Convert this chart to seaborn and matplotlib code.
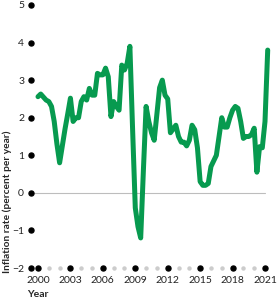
"""Quarterly inflation rate, 2000-2021."""
import matplotlib
matplotlib.use("Agg")
import matplotlib.pyplot as plt
import numpy as np
import pandas as pd
import seaborn as sns

YEARS = list(range(2000, 2022))
# quarterly inflation (percent per year), 2000Q1..2021Q2
INFLATION = [
    2.56, 2.63, 2.55, 2.47,
    2.43, 2.30, 1.90, 1.30,
    0.80, 1.25, 1.70, 2.10,
    2.52, 1.90, 2.00, 2.00,
    2.43, 2.56, 2.47, 2.78,
    2.60, 2.60, 3.18, 3.14,
    3.14, 3.32, 3.09, 2.03,
    2.43, 2.30, 2.20, 3.40,
    3.27, 3.45, 3.90, 1.70,
    -0.40, -0.90, -1.20, 0.60,
    2.30, 1.90, 1.60, 1.40,
    2.10, 2.80, 3.00, 2.60,
    2.50, 1.60, 1.70, 1.80,
    1.50, 1.35, 1.35, 1.25,
    1.40, 1.80, 1.68, 1.20,
    0.30, 0.20, 0.20, 0.25,
    0.70, 0.85, 1.00, 1.50,
    2.00, 1.75, 1.75, 2.00,
    2.20, 2.30, 2.25, 1.90,
    1.45, 1.50, 1.50, 1.55,
    1.72, 0.55, 1.23, 1.20,
    1.90, 3.80,
]
Y_TICKS = [-2, -1, 0, 1, 2, 3, 4, 5]
X_MAJOR = [2000, 2003, 2006, 2009, 2012, 2015, 2018, 2021]

GREEN = "#079a4f"

df = pd.DataFrame({
    "t": [YEARS[0] + i / 4 for i in range(len(INFLATION))],
    "rate": INFLATION,
})

sns.set_theme(style="white")
plt.rcParams["font.family"] = ["Lato", "DejaVu Sans"]

fig = plt.figure(figsize=(2.78, 3.0), dpi=100)
ax = fig.add_axes([31 / 278, 32 / 300, 241 / 278, 263 / 300])
ax.set_xlim(2000 - 7 / 10.81, 2021 + 7 / 10.81)
ax.set_ylim(-2, 5)

ax.axhline(0, xmin=0, xmax=(2021 - ax.get_xlim()[0]) / np.diff(ax.get_xlim())[0],
           color="#bdbdbd", lw=0.8, zorder=1)
sns.lineplot(data=df, x="t", y="rate", color=GREEN, lw=3.6, ax=ax, zorder=3)

for s in ax.spines.values():
    s.set_visible(False)

# dotted axes: black dots on ticks, grey dots on other years
ax.plot([0] * len(Y_TICKS), Y_TICKS, "o", color="black", ms=3.6,
        transform=ax.get_yaxis_transform(), clip_on=False, zorder=4)
minor = [y for y in YEARS if y not in X_MAJOR]
ax.plot(minor, [0] * len(minor), "o", color="#cccccc", ms=2.2,
        transform=ax.get_xaxis_transform(), clip_on=False, zorder=4)
ax.plot(X_MAJOR, [0] * len(X_MAJOR), "o", color="black", ms=3.6,
        transform=ax.get_xaxis_transform(), clip_on=False, zorder=4)

ax.set_yticks(Y_TICKS)
ax.set_yticklabels([str(v).replace("-", "\u2212") for v in Y_TICKS])
ax.set_xticks(X_MAJOR)
ax.set_xticklabels([str(v) for v in X_MAJOR])
ax.tick_params(axis="both", length=0, labelsize=7.5, colors="#222222")
ax.tick_params(axis="y", pad=5)
ax.tick_params(axis="x", pad=6)

ax.set_xlabel("Year", fontsize=7.5, weight="bold", loc="left")
ax.xaxis.set_label_coords(-0.015, -0.085)
ax.set_ylabel("Inflation rate (percent per year)", fontsize=7.3, weight="bold", loc="bottom")
ax.yaxis.set_label_coords(-0.078, -0.02)

fig.savefig("out.png", dpi=100, facecolor="white")
plt.close(fig)
